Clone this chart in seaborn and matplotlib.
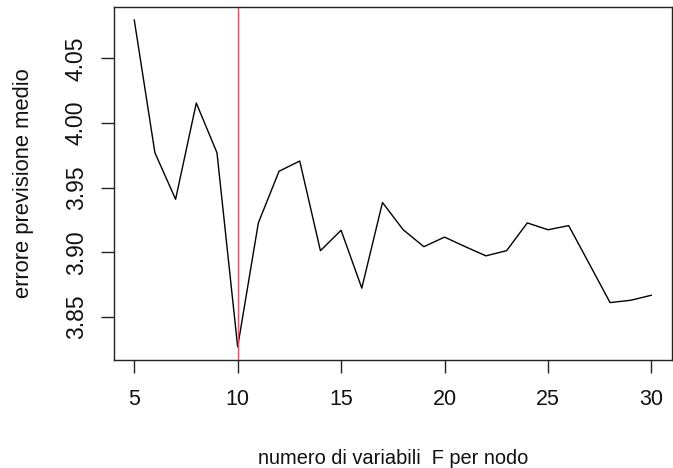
import matplotlib
matplotlib.use("Agg")
import matplotlib.pyplot as plt
import seaborn as sns
import pandas as pd

# data
n_vars = list(range(5, 31))
errore = [4.080, 3.977, 3.941, 4.0155, 3.977, 3.8267, 3.9227, 3.9627, 3.9706,
          3.9012, 3.917, 3.8722, 3.9385, 3.9174, 3.9043, 3.9117, 3.9043, 3.8972,
          3.9012, 3.9227, 3.9174, 3.9206, 3.8909, 3.861, 3.8628, 3.8667]
x_ticks = [5, 10, 15, 20, 25, 30]
y_ticks = [3.85, 3.90, 3.95, 4.00, 4.05]
best_f = 10

df = pd.DataFrame({"F": n_vars, "err": errore})

sns.set_theme(style="white")
plt.rcParams['font.family'] = ['Liberation Sans', 'DejaVu Sans']

fig = plt.figure(figsize=(6.73, 4.68), dpi=100)
ax = fig.add_axes([0.1687, 0.2308, 0.83, 0.755])

sns.lineplot(data=df, x="F", y="err", ax=ax, color="black", linewidth=1.0)
ax.axvline(best_f, color="#DF536B", linewidth=1.0)

xmin, xmax = min(n_vars), max(n_vars)
ymin, ymax = min(errore), max(errore)
px = (xmax - xmin) * 0.04
py = (ymax - ymin) * 0.04
ax.set_xlim(xmin - px, xmax + px)
ax.set_ylim(ymin - py, ymax + py)

ax.set_xticks(x_ticks)
ax.set_xticklabels([str(t) for t in x_ticks])
ax.set_yticks(y_ticks)
ax.set_yticklabels([f"{t:.2f}" for t in y_ticks], rotation=90, va="center")

ax.tick_params(axis="both", which="major", direction="out", length=9.4, width=1.0,
               color="#222222", labelcolor="#111111",
               bottom=True, left=True)
ax.tick_params(axis="x", pad=11.5, labelsize=15.5)
ax.tick_params(axis="y", pad=9, labelsize=16.5)
for s in ax.spines.values():
    s.set_color("#222222")
    s.set_linewidth(1.0)

ax.set_xlabel("numero di variabili  F per nodo", fontsize=14.4, color="#111111", labelpad=28)
ax.set_ylabel("errore previsione medio", fontsize=15.8, color="#111111", labelpad=22)

fig.savefig("out.png", dpi=100)
